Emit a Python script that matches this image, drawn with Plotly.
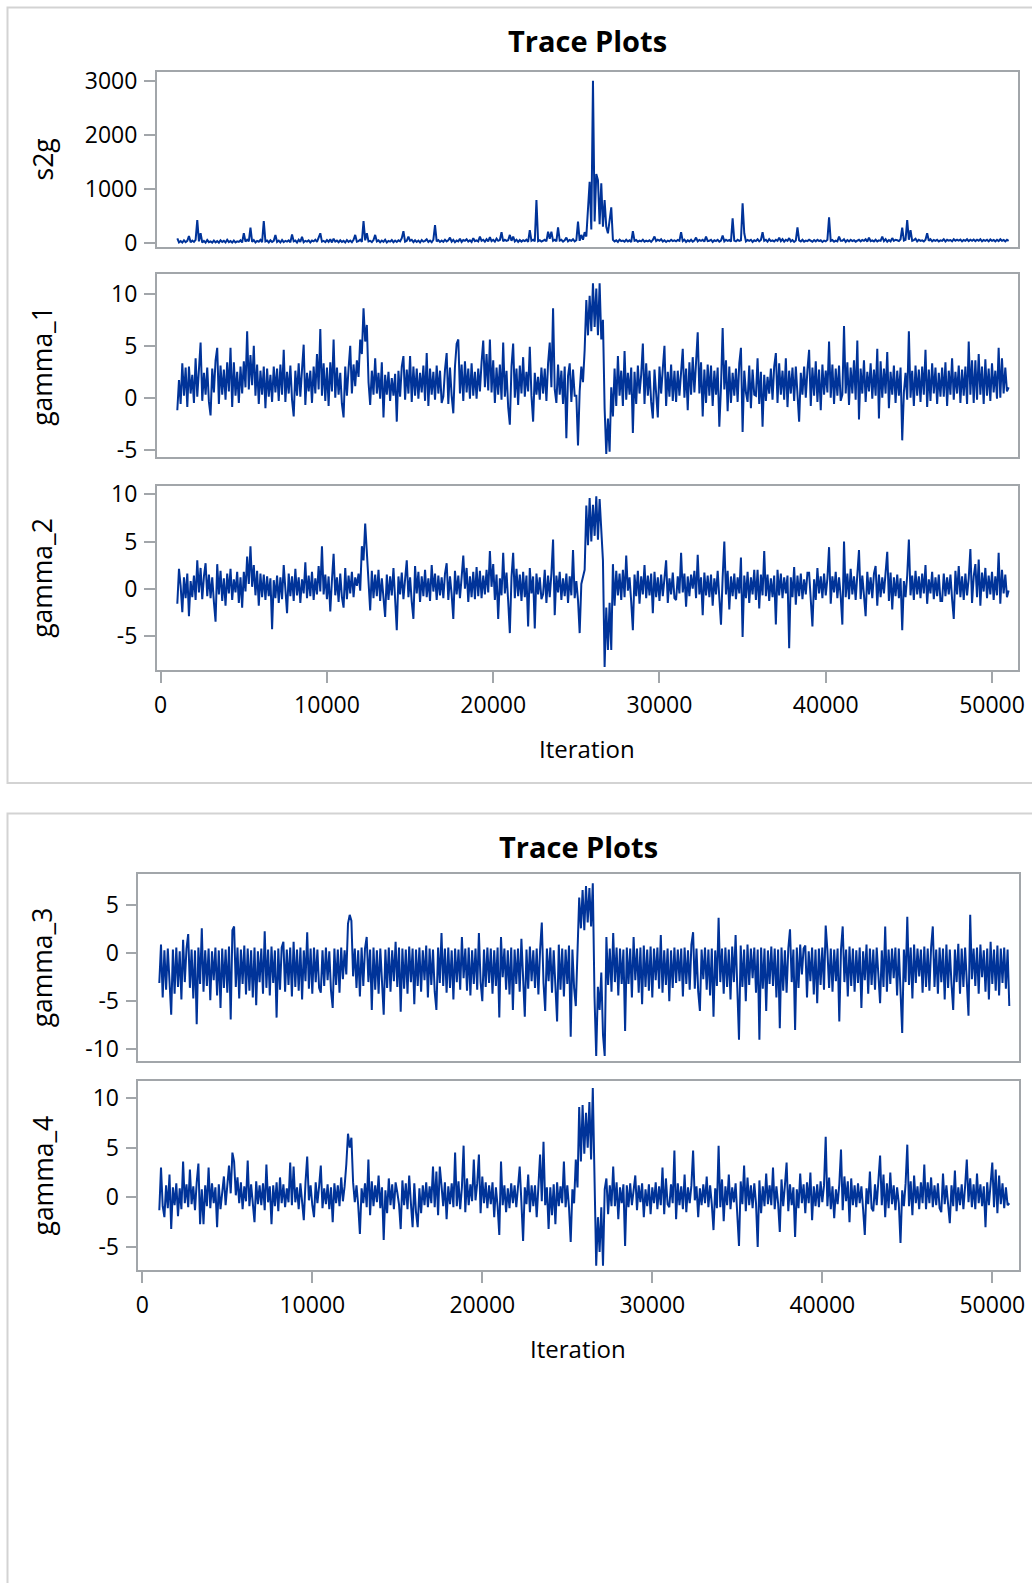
import plotly.graph_objects as go

# Iteration numbers of the thinned posterior draws (burn-in 1000, every 100th kept)
ITERATIONS = list(range(1000, 51001, 100))

s2g = [
    86, 10, 35, 8, 50, 15, 40, 130, 12, 45, 20, 60, 425, 30, 180, 10, 40, 8, 55, 15,
    30, 8, 45, 12, 35, 6, 50, 20, 40, 10, 60, 15, 35, 8, 45, 12, 30, 20, 50, 10,
    180, 25, 60, 30, 285, 20, 55, 10, 40, 25, 60, 15, 405, 30, 45, 10, 50, 20, 40, 150,
    20, 45, 10, 55, 15, 40, 25, 50, 12, 160, 30, 45, 10, 60, 20, 115, 15, 40, 25, 50,
    12, 45, 30, 60, 20, 90, 180, 25, 40, 15, 55, 20, 70, 10, 80, 25, 45, 15, 50, 20,
    40, 10, 55, 20, 45, 15, 60, 150, 25, 35, 60, 20, 405, 50, 180, 30, 40, 15, 55, 150,
    30, 50, 15, 45, 20, 60, 10, 40, 25, 55, 15, 45, 20, 50, 30, 90, 220, 25, 40, 120,
    40, 60, 15, 50, 20, 45, 10, 55, 25, 40, 70, 20, 45, 15, 60, 330, 30, 55, 20, 45,
    20, 60, 30, 50, 100, 25, 60, 15, 45, 30, 80, 20, 55, 40, 70, 25, 50, 20, 90, 35,
    50, 30, 120, 40, 60, 25, 70, 30, 110, 35, 60, 25, 80, 40, 55, 200, 30, 60, 40, 50,
    150, 40, 120, 30, 60, 20, 55, 25, 50, 35, 60, 20, 240, 40, 60, 30, 795, 35, 50, 25,
    40, 60, 30, 210, 80, 210, 40, 60, 30, 290, 45, 60, 25, 50, 100, 30, 55, 40, 70, 30,
    50, 395, 40, 150, 60, 200, 120, 600, 1135, 250, 3005, 400, 1277, 1166, 350, 1105, 300, 796, 300, 180,
    456, 660, 60, 30, 50, 20, 60, 35, 45, 25, 60, 30, 50, 15, 220, 40, 55, 25, 45, 30,
    60, 25, 45, 30, 50, 20, 55, 120, 35, 60, 40, 70, 25, 50, 20, 45, 30, 60, 35, 50,
    30, 55, 40, 200, 35, 60, 20, 50, 30, 60, 25, 45, 100, 30, 55, 40, 60, 25, 120, 35,
    40, 60, 20, 50, 35, 60, 25, 45, 140, 30, 60, 40, 55, 25, 456, 45, 30, 60, 40, 50,
    735, 180, 30, 55, 40, 60, 20, 50, 35, 70, 30, 55, 200, 40, 60, 25, 70, 35, 50, 30,
    60, 40, 100, 35, 70, 25, 60, 40, 90, 30, 55, 20, 45, 290, 50, 30, 60, 25, 45, 35,
    60, 40, 25, 55, 30, 60, 35, 50, 20, 45, 30, 60, 475, 40, 55, 25, 45, 30, 120, 40,
    40, 70, 20, 55, 30, 60, 35, 50, 25, 45, 60, 30, 55, 40, 70, 25, 100, 35, 50, 30,
    60, 30, 50, 40, 120, 35, 70, 25, 55, 30, 90, 40, 60, 50, 35, 70, 285, 45, 60, 425,
    60, 240, 40, 55, 80, 30, 60, 40, 50, 30, 60, 180, 40, 70, 30, 55, 40, 60, 30, 50,
    40, 70, 30, 60, 45, 55, 30, 70, 40, 60, 45, 65, 30, 55, 40, 70, 35, 60, 40, 65,
    35, 60, 40, 70, 30, 55, 40, 60, 30, 65, 40, 55, 30, 60, 35, 70, 40, 55, 30, 60,
    40,
]

gamma_1 = [
    -1.2, 1.7, -0.6, 3.3, 0.2, 2.9, -0.9, 3.0, 0.4, 2.2, -0.5, 3.8, 0.1, 2.6, 5.3, -0.3, 2.4, 0.3, 2.9, -0.4,
    -1.7, 2.8, 0.5, 3.6, 4.8, -0.6, 3.1, 0.3, 2.7, -0.2, 3.4, 0.6, 4.8, -0.9, 3.4, 0.2, 2.5, -0.5, 3.0, 0.4,
    3.5, 1.0, 6.4, 0.8, 4.1, 1.2, 5.0, 0.2, 3.2, -0.6, 2.6, 0.3, 3.0, -1.0, 2.8, 0.1, 2.2, -0.4, 3.0, 0.5,
    2.8, -0.3, 3.2, 0.3, 4.6, -0.4, 2.5, 0.4, 3.1, -0.2, -1.8, 2.6, 0.2, 3.3, 0.1, 2.7, 5.1, -0.7, 2.4, 0.6,
    2.6, -0.5, 3.0, 0.4, 4.2, 0.8, 6.6, 0.2, 3.3, -0.3, 2.9, -0.8, 3.4, 0.6, 5.6, 0.0, 2.9, 0.3, 2.4, -0.6,
    -1.9, 3.0, 0.2, 2.8, 5.0, 0.4, 3.2, 1.1, 3.6, 2.0, 5.6, 4.2, 8.6, 5.4, 7.0, 1.5, -0.7, 2.6, 0.3, 3.8,
    0.4, 2.4, -0.1, 3.4, -1.9, 2.2, 0.3, 2.5, -0.3, 1.9, 0.2, 2.3, -2.3, 2.6, 0.1, 3.0, 4.0, -0.2, 2.7, 0.4,
    4.0, -0.4, 3.0, 0.2, 2.8, -0.1, 2.4, 0.5, 3.1, -0.3, 4.3, -0.8, 2.8, 0.3, 2.5, -0.2, 3.1, 0.4, 2.6, -0.5,
    0.1, 2.7, 4.3, -0.6, 2.9, 0.2, -1.5, 3.0, 5.2, 5.6, 0.4, 3.2, -0.3, 3.5, 0.5, 2.8, -0.1, 3.3, 0.2, 2.5,
    -0.1, 2.8, 0.6, 3.4, 5.5, 1.0, 4.2, 0.7, 5.6, 0.5, 3.6, -0.5, 2.9, 0.3, 3.2, -0.2, 5.3, 0.1, 2.6, -0.9,
    -2.6, 3.0, 5.2, 0.0, 2.8, -0.7, 3.1, 0.4, 3.9, 0.1, 2.5, 0.6, 4.9, 0.2, -2.3, 2.4, 0.3, 2.0, -0.2, 2.9,
    0.4, 2.8, -0.3, 3.3, 5.3, 1.0, 8.6, 0.8, -0.5, 3.2, 0.3, 2.6, -0.6, 3.0, -3.9, 2.1, 3.3, -0.4, 2.7, 0.2,
    0.2, -4.6, 0.6, 3.0, 1.5, 4.6, 9.4, 6.0, 9.8, 6.4, 11.0, 6.8, 10.5, 6.0, 11.0, 5.6, 7.5, -1.0, -5.4, -2.0,
    -5.2, 1.0, -1.8, 2.8, -0.8, 4.0, 0.2, 2.6, -0.8, 4.5, -0.2, 2.4, 0.3, 2.9, -3.4, 2.5, -0.6, 3.1, 0.4, 2.2,
    5.2, -0.6, 3.3, 0.2, 2.6, -0.4, -2.0, 2.7, 0.3, -1.9, 3.0, 0.4, 2.8, 5.0, -0.8, 2.5, 0.1, 3.2, -0.3, 2.6,
    -0.4, 2.6, 0.2, 3.0, 4.7, 0.0, 2.8, -1.2, 3.4, 0.3, 3.9, 0.5, 2.9, 6.3, 0.4, 3.4, -1.8, 2.7, -0.5, 3.2,
    0.2, 3.1, -0.8, 2.6, 0.3, 2.9, -2.8, 1.0, 6.7, 0.8, 3.6, -1.3, 3.0, -0.5, 2.4, 0.2, 2.8, -0.4, 3.3, 4.8,
    -3.3, 2.6, 0.5, -0.4, 3.1, -1.0, 2.7, 0.3, 0.2, 3.8, -0.6, 2.5, -2.8, 2.2, -0.3, 2.0, 0.4, 2.8, -0.2, 3.0,
    4.3, -0.5, 3.3, 0.3, 2.6, -0.2, 3.8, -0.9, 2.6, 0.4, 2.9, -0.3, 3.0, 0.1, -2.3, 2.4, 0.3, 3.0, 0.0, 2.7,
    4.6, -0.8, 2.9, 0.2, 3.5, -0.4, 2.7, -1.2, 3.2, 0.3, 2.6, 0.5, 5.4, 0.0, 3.2, -0.6, 2.8, 0.2, 3.1, -0.3,
    0.3, 6.9, 0.4, 3.4, -0.7, 2.9, 0.4, 3.6, -0.2, 5.5, -2.1, 2.8, 0.4, 3.6, -0.4, 2.5, 0.6, 3.3, -0.1, 2.7,
    0.2, 4.7, -2.0, 3.5, 0.0, 2.8, 0.4, 4.4, -1.0, 2.5, 0.3, 3.1, -0.5, 2.6, 0.2, 2.9, -4.1, 0.5, 2.4, -0.2,
    6.4, 0.0, 2.6, -0.8, 3.1, 0.2, 2.7, -0.4, 3.0, 0.3, 4.6, -0.9, 2.7, -0.3, 3.3, 0.4, 2.9, -0.6, 2.4, 0.1,
    2.9, 0.1, 3.4, -0.8, 2.6, 0.3, 3.8, -0.2, 2.5, 0.4, 3.1, -0.5, 2.7, 0.2, 3.0, -0.6, 5.4, 0.3, 3.6, -0.5,
    3.6, -0.2, 4.2, 0.3, 3.0, -0.6, 3.7, 0.2, 2.8, -0.3, 3.3, 0.5, 2.6, -0.1, 4.8, 0.0, 3.8, 0.4, 2.9, 0.6,
    1.0,
]

gamma_2 = [
    -1.6, 2.1, 0.3, -2.5, 1.2, -1.0, 1.6, -2.9, 0.8, -0.9, 1.4, -1.2, 3.0, -0.4, 2.2, -1.1, 1.3, 2.7, -0.8, 1.5,
    -1.0, 1.2, -1.4, -3.5, 2.6, -0.6, 1.9, -1.3, 1.1, -1.8, 1.6, -0.5, 2.1, -1.2, 1.0, -0.4, 1.8, -1.5, 1.2, -2.0,
    1.8, -0.3, 3.4, 0.5, 4.5, 0.2, 2.5, -0.7, 1.9, -1.8, 1.6, -0.9, 1.5, -1.2, 1.3, -0.8, 1.1, -4.3, 0.9, -1.0,
    1.4, -1.5, 1.2, -1.1, 2.5, -0.6, -2.6, 1.6, -0.8, 1.3, -1.3, 2.1, -0.7, 1.2, -1.5, 1.0, -0.5, 2.8, -1.0, 1.4,
    -0.8, 1.8, -1.2, 1.1, -0.6, 2.4, -0.3, 4.5, -0.6, 1.5, -1.1, 1.3, -2.4, 0.9, 3.7, -0.7, 1.2, -1.4, 1.6, -0.9,
    -2.0, 2.2, -1.1, 1.4, -0.5, 1.8, -0.9, 1.2, 0.3, 1.6, -0.2, 4.5, 3.0, 6.9, 4.0, 1.2, -2.3, 1.9, -1.0, 1.5,
    -0.8, 2.0, -1.3, 1.1, -0.6, -3.0, 1.5, -1.2, 1.3, -0.7, 2.2, -1.0, -4.4, 1.3, -0.6, 1.7, -1.1, 1.0, 3.0, -0.9,
    1.2, -1.4, -3.2, 2.4, -0.5, 1.8, -1.4, 1.3, -0.8, 2.0, -0.9, 1.1, -1.3, 2.5, -0.3, 1.6, -1.2, 1.4, -0.7, 1.2,
    -1.0, 1.6, 2.7, -1.2, 1.3, -0.6, -3.2, 1.9, -0.6, 1.4, -1.0, 1.2, 3.5, 0.0, 2.2, -1.4, 1.3, -0.9, 1.8, -1.1,
    2.3, -0.8, 1.9, -1.0, 1.4, -0.6, 2.0, -0.4, 4.0, 0.2, 2.6, -1.2, 1.5, -3.2, 1.1, -0.7, 3.8, -0.5, 1.7, -1.3,
    -4.7, 1.2, 3.8, -1.0, 2.1, -0.8, 1.5, -1.3, 1.8, -0.9, 1.4, -4.0, 2.2, -0.5, 1.3, -4.2, 1.6, -0.6, 1.2, -1.1,
    -0.6, 2.0, -1.5, 1.4, -0.9, 1.6, 5.2, -2.8, 1.4, -0.4, 1.8, -1.2, 1.1, -0.8, 1.6, -1.5, 1.3, -0.7, 4.1, -1.0,
    0.8, -1.2, -4.7, 0.5, 1.4, 2.0, 8.8, 4.6, 9.6, 5.0, 8.9, 5.6, 9.8, 5.2, 9.5, 6.0, 3.0, -8.3, -2.0, -6.5,
    -1.5, -6.5, 2.6, -1.8, 1.9, -0.7, 1.6, -1.2, 2.0, -0.9, 3.5, -0.2, 1.2, -1.4, -4.4, 1.5, -0.8, 1.9, -1.6, 1.3,
    -0.6, 2.5, -1.0, 1.4, -0.7, 1.6, -2.6, 1.8, -0.9, 1.2, -1.3, 1.5, -0.8, 1.1, 3.0, -1.5, 1.1, -0.6, 1.7, -1.0,
    -1.2, 1.3, -0.5, 3.8, -0.4, 1.6, -1.9, 1.3, -0.8, 1.5, 0.0, 1.9, -1.0, 3.6, -0.6, 1.2, -2.8, 1.7, -0.7, 1.4,
    -0.9, 1.5, -1.8, 1.1, -0.6, 1.9, -1.3, -3.8, 1.2, 5.0, -0.6, 1.9, -2.2, 1.3, -0.8, 1.6, -1.1, 1.2, -0.5, 3.3,
    -5.1, 1.4, -1.0, 1.8, -1.5, 1.2, -0.6, 2.0, -1.2, 2.0, -2.1, 1.5, -0.7, 4.0, -0.8, 1.5, -1.3, 1.1, -0.9, 1.4,
    -3.8, 2.0, -0.7, 1.6, -1.0, 1.2, -0.5, 1.4, -6.3, 1.2, -0.9, 2.3, -1.7, 1.4, -0.8, 1.6, -1.1, 1.0, -0.6, 1.7,
    1.7, -1.2, -4.0, 1.0, -1.2, 2.2, -0.5, 1.3, -1.0, 1.6, -0.7, 1.1, 4.4, -1.6, 1.3, -0.4, 1.8, -1.0, 1.2, -0.8,
    -3.8, 5.0, -0.9, 1.6, -1.1, 2.1, -0.6, 1.3, -1.2, 1.5, 4.1, -1.1, 1.4, -0.7, -2.9, 1.8, -0.6, 1.2, -1.0, 1.6,
    2.4, -1.8, 1.5, -0.9, 1.2, -0.5, 1.7, 3.9, -1.3, 1.7, -2.2, 1.2, -0.8, 1.5, -1.0, 1.1, -4.4, 0.8, -0.9, 1.4,
    5.2, -0.7, 1.4, -1.2, 1.9, -0.6, 1.3, -1.0, 1.6, -0.5, 2.5, -1.6, 1.0, -0.5, 1.8, -1.1, 1.2, -0.8, 1.5, -1.3,
    -1.3, 1.6, -0.8, 1.2, -0.6, 1.5, -1.1, -3.2, 1.9, -0.6, 2.4, -0.9, 1.3, -1.2, 1.6, -0.7, 1.1, 4.2, -1.5, 1.3,
    2.6, -0.9, 3.1, -1.8, 1.7, -0.3, 2.2, -1.0, 1.4, -0.6, 1.8, -1.2, 1.3, -0.7, 3.8, -1.6, 2.0, -0.5, 1.5, -0.9,
    -0.2,
]

gamma_3 = [
    -3.1, 0.9, -4.6, 0.3, -3.8, 0.5, -2.9, -6.4, 0.4, -4.2, 0.6, -3.5, 0.2, -4.8, 1.4, -3.0, 0.5, 2.0, -3.6, 0.4,
    -4.7, 0.3, -7.4, 0.6, -3.2, 2.6, -4.0, 0.3, -3.4, 0.5, -4.9, 0.2, -2.8, 0.6, -4.4, 0.3, -5.7, 0.5, -3.6, 0.4,
    -4.1, 0.7, -6.9, 2.4, 2.8, -3.5, 0.6, -4.7, 0.4, -3.2, 0.8, -4.3, 0.5, -3.9, 0.3, -4.6, 0.6, -5.4, 0.2, -3.0,
    0.5, -4.2, 2.3, -3.6, 0.4, -4.4, 0.7, -3.1, 0.3, -6.7, 0.5, -3.8, 0.6, 1.2, -4.0, 0.4, -3.3, 0.6, -4.5, 1.2,
    -3.5, 0.4, -3.9, 0.6, -4.8, 0.3, -2.9, 2.2, -3.7, 0.5, -4.2, 0.6, -3.0, 0.4, -3.6, -4.1, 0.3, -3.4, 0.6, -2.8,
    0.2, -3.9, -5.7, 0.5, -3.3, 0.4, -4.1, 0.6, -2.7, 0.3, -2.2, 3.1, 4.0, 3.4, -2.4, 0.5, -3.6, 0.3, -4.5, 0.6,
    -3.4, 0.5, 1.7, -3.0, 0.4, -5.9, 0.6, -3.8, 0.3, -4.2, 0.5, -3.1, -6.4, 0.4, -3.6, 0.6, -4.0, 0.3, -2.9, 1.2,
    -3.5, 0.6, -6.1, 0.5, -3.7, 0.4, -4.2, 0.7, -3.0, 0.5, -5.3, 0.4, -3.4, 0.6, -4.0, 0.3, -2.8, 0.8, -4.6, 0.5,
    -3.3, 0.4, -4.0, -5.9, 0.6, -3.1, 2.1, -3.4, 0.5, -4.1, 0.6, -3.6, 0.3, -4.8, 0.5, -3.0, 0.4, -3.8, 1.7, -2.6,
    0.5, -3.9, 0.6, -4.4, 0.3, -3.2, 0.5, -3.8, 2.1, -3.0, -5.0, 0.4, -3.5, 0.6, -3.1, 0.5, -4.2, 0.3, -3.4, 0.6,
    -6.7, 1.7, -2.5, 0.5, -3.8, 0.3, -4.3, 0.6, -5.9, 0.4, -3.2, 0.5, -4.0, 1.5, -3.3, -6.6, 0.4, -3.7, 0.7, -2.9,
    0.3, -3.6, 0.5, -4.3, 0.4, 3.2, -3.1, -6.0, 0.5, -2.9, 0.6, -4.1, 0.3, -3.5, -7.1, 0.9, -3.8, 0.5, -4.5, 0.4,
    -3.2, 0.8, -8.7, 0.4, -3.6, -5.5, 0.6, 5.8, 2.6, 6.6, 2.4, 7.0, 3.2, 6.8, 2.8, 7.3, -4.5, -10.7, -3.5, -5.9,
    -2.0, -8.5, -10.7, 1.7, -3.3, 0.5, -4.0, 2.1, -3.0, 0.6, -4.4, 0.5, -3.2, 0.4, -8.1, 0.6, -3.2, 0.5, -4.6, 1.7,
    -2.8, 0.5, -4.1, 0.6, -5.3, 0.8, -3.5, 0.4, -3.9, 0.7, -4.6, 0.5, -2.8, 0.6, -3.7, 1.9, -4.1, 0.3, -3.3, 0.5,
    -5.0, 0.3, -3.6, 0.6, -3.1, 0.4, -2.9, 0.5, -4.5, 0.6, -3.2, 0.3, -3.8, 0.9, 2.2, -3.7, 0.5, -4.0, -6.0, 0.4,
    -2.7, 0.6, -3.8, 0.4, -4.4, 0.5, -6.6, 0.3, -3.4, 3.7, -3.0, 0.5, -4.2, 0.6, -3.5, 0.4, -4.8, 0.7, -3.0, 1.9,
    -3.6, -9.0, 0.8, -3.5, 0.4, -5.0, 0.9, -3.3, 0.5, -2.6, 0.6, -4.1, 0.4, -9.0, 0.6, -3.7, 0.5, -6.0, 0.3, -3.2,
    0.7, -3.4, 0.5, -4.6, 0.4, -7.8, 0.6, -3.9, 0.3, -4.1, 0.5, 2.5, -3.0, 0.4, -8.0, 0.6, -3.6, 0.9, -2.2, 0.5,
    0.8, -4.6, 0.2, -2.9, 0.6, -4.3, 0.4, -5.2, 0.5, -3.3, 0.6, -3.8, 2.9, 0.3, -3.6, 0.5, -4.0, 0.4, -2.9, 0.5,
    -7.1, 0.4, 2.8, -3.0, 0.4, -4.5, 0.7, -3.4, 0.5, -4.0, 0.3, -3.1, 0.6, -5.7, 0.2, -2.8, 0.9, -4.2, 0.5, -3.3,
    0.4, -3.8, 0.6, -3.0, -5.2, 0.3, -3.5, 2.8, -4.0, 0.4, -3.2, 0.5, -2.6, 0.6, -4.4, 0.5, -3.6, -8.3, 0.4, -3.0,
    3.8, -3.3, 0.6, -4.7, 0.9, -3.1, 0.5, -2.4, 0.4, -4.1, 0.7, -3.5, 0.5, -3.9, 0.6, 2.8, -3.5, 0.4, -4.2, 0.6,
    -3.0, 0.5, -4.8, 0.9, -3.6, 0.4, -3.2, -5.9, 0.4, -3.0, 1.0, -4.2, 0.5, -3.5, 0.6, -3.8, -6.5, 4.0, -2.7, 0.5,
    -3.4, 0.6, -4.2, 0.9, -2.5, 0.3, -4.0, 0.5, -4.8, 1.2, -3.2, 0.4, -3.9, 0.8, -4.4, 0.5, -3.1, 0.6, -3.7, 0.4,
    -5.5,
]

gamma_4 = [
    -1.3, 3.0, -0.9, -2.0, 1.2, -1.1, 2.3, -3.2, 1.0, -0.8, 1.4, -1.9, 0.9, -1.2, 3.6, -0.6, 1.3, -1.0, 2.8, -0.7,
    1.1, -1.3, 1.5, 3.4, -2.7, 0.8, -2.7, 1.2, -0.9, 3.0, -1.1, 1.4, -0.6, 1.0, -3.0, 1.3, -1.2, 0.9, 2.1, -0.8,
    1.2, 3.2, 0.4, 4.5, 3.6, 0.2, 2.0, -0.6, 1.5, -1.2, 1.1, -0.4, 3.7, -0.9, 1.3, -1.1, -2.5, 1.6, -0.7, 1.2,
    -0.8, 1.4, -1.3, 3.3, -0.5, 1.1, -2.7, 1.2, -0.9, 1.5, -1.4, 2.0, -0.6, 1.3, -1.0, 0.9, -0.5, 3.5, -0.8, 3.1,
    -0.5, 1.0, -1.2, 1.4, -0.7, -2.3, 1.5, 4.1, -0.3, 1.2, -0.8, -2.0, 1.5, -0.6, 1.1, 3.2, -1.1, 0.9, -0.7, 1.3,
    -1.2, 1.0, -2.5, 1.4, -0.6, 1.2, -0.9, 2.0, -0.4, 1.1, 3.3, 6.4, 5.0, 6.0, 1.5, -0.5, 1.2, -0.8, -3.7, 0.9,
    -0.6, 1.4, -1.0, 3.8, -1.8, 1.6, -0.9, 1.2, -0.5, 2.2, -1.1, 1.0, -4.3, 0.7, -1.6, 1.9, -0.8, 1.3, -1.2, 1.5,
    0.5, -0.7, -3.2, 1.7, -0.8, 1.4, -1.2, 2.2, -0.6, -3.0, 1.4, -1.5, -3.0, 0.9, -1.6, 1.2, -0.8, 1.5, -1.0, 1.1,
    -0.6, 3.1, -1.0, 2.6, -1.8, 3.1, 1.2, -0.9, 1.5, -2.2, 1.1, -0.7, 1.4, -1.0, 4.5, -0.9, 1.6, -1.2, 1.0, 5.2,
    -1.5, 1.9, -0.8, 1.3, -0.4, 3.8, -0.3, 1.4, 4.3, -1.6, 2.1, -0.6, 1.5, -1.1, 1.2, -0.7, 1.5, -2.0, 1.0, -0.9,
    -3.8, 3.6, -0.8, 1.2, -1.5, 0.9, -1.1, 1.4, -0.6, 1.2, -1.0, 1.1, 3.1, -0.5, -4.4, 1.0, -0.7, 2.3, -1.5, 1.2,
    -0.9, 1.2, -2.0, 1.1, 4.3, -0.4, 5.6, -0.8, 1.0, -3.2, 1.0, -1.8, 1.3, -2.7, 1.5, -0.9, 1.1, -0.6, 3.6, -1.0,
    1.2, -1.0, -4.5, 0.8, -0.6, 3.8, 1.0, 9.1, 3.6, 9.3, 4.4, 8.5, 5.0, 9.6, 3.8, 11.0, 2.0, -6.9, -2.0, -5.5,
    -1.0, -6.9, 0.8, 1.9, -1.7, 1.2, -0.9, 3.1, -0.9, 1.5, -2.2, 1.0, -0.6, 1.3, -4.9, 1.2, -1.0, 1.4, -0.8, 1.1,
    2.2, -1.3, 1.2, -0.5, 1.4, -2.0, 0.8, -0.9, 1.3, -1.7, 1.0, -0.6, 1.5, -1.2, 1.1, -0.8, 3.0, -1.7, 1.9, -0.7,
    -1.0, 1.3, -0.6, 4.7, -2.2, 1.4, -0.8, 1.1, -1.2, 2.3, -1.5, 1.0, -0.6, 1.2, 4.7, -0.3, 1.1, -2.0, 0.9, -0.8,
    1.3, -0.6, 2.1, -1.0, 1.2, -0.7, -3.3, 0.9, -1.1, 5.2, -1.0, 1.8, -2.4, 1.1, -0.8, 2.3, -1.2, 1.0, -0.5, 1.4,
    -1.2, -4.9, 1.6, -0.7, 3.2, -1.4, 2.0, -0.8, 1.2, -1.1, 1.4, -0.6, -5.0, 1.7, -1.6, 1.1, -0.9, 2.4, -0.7, 1.2,
    -0.8, 3.0, -1.2, 1.1, -0.6, -3.5, 1.8, -0.9, 1.2, 3.5, -1.4, 1.3, -0.8, 1.0, -4.0, 0.8, -1.1, 2.4, -0.6, 1.3,
    -1.6, 1.5, -0.6, 2.5, -2.3, 1.1, -0.9, 1.3, -1.0, 1.6, -0.5, 1.2, 6.1, -0.9, 2.0, -1.2, 1.1, -2.1, 0.8, -0.7,
    1.3, 4.8, -1.3, 2.1, -0.4, 1.6, -2.5, 1.9, -0.8, 1.2, -1.0, 1.4, -0.6, 1.1, -1.2, -3.8, 0.9, -0.7, 2.6, -1.1,
    -1.4, 1.3, -0.8, 1.5, 4.2, -0.8, 2.3, -2.0, 1.4, -1.1, 2.5, -0.7, 1.2, -1.3, 1.0, -0.6, -4.6, 0.7, -0.9, 1.4,
    5.3, -0.9, 1.6, -1.8, 2.2, -0.6, 1.1, -1.2, 1.5, -0.6, 3.3, -1.2, 1.5, -0.6, 2.0, -1.0, 1.2, -0.8, 1.4, -1.1,
    -1.5, 2.4, -0.7, 1.2, -0.9, -2.6, 1.2, -0.9, 2.7, -1.4, 1.0, -0.8, 1.3, -1.2, 1.1, 3.8, -0.5, 1.9, -1.0, 1.3,
    -1.2, 2.4, -0.6, 1.3, -0.9, 1.1, -3.0, 1.5, -0.8, 1.2, 3.5, -1.0, 2.8, -1.6, 2.2, -0.7, 1.4, -1.1, 1.0, -0.8,
    -0.6,
]

X_TICKS = [0, 10000, 20000, 30000, 40000, 50000]
PARAM_NAMES = ["s2g", "gamma_1", "gamma_2", "gamma_3", "gamma_4"]
PARAM_VALUES = [s2g, gamma_1, gamma_2, gamma_3, gamma_4]
Y_TICKS = [
    [0, 1000, 2000, 3000],
    [-5, 0, 5, 10],
    [-5, 0, 5, 10],
    [-10, -5, 0, 5],
    [-5, 0, 5, 10],
]

# ---- page geometry (pixels) ----
W, H = 1032, 1583
LINE_BLUE = "#003399"
AXIS_GRAY = "#A2A6AA"
FRAME_GRAY = "#D3D3D3"
FONT = "Open Sans"


def fx(px):
    return px / W


def fy(px):
    return 1 - px / H


# plot boxes: (left, right, top, bottom) in pixels, y range, x range, bottom-of-stack flag
boxes = [
    (156.7, 1017.7, 72.0, 247.0, [-74, 3167], [-240, 51546], False),
    (156.7, 1017.7, 274.3, 457.3, [-5.73, 11.87], [-240, 51546], False),
    (156.7, 1017.7, 485.7, 670.0, [-8.61, 10.91], [-240, 51546], True),
    (138.3, 1018.6, 874.0, 1060.7, [-11.19, 8.26], [-235, 51547], False),
    (138.3, 1018.6, 1081.0, 1270.0, [-7.32, 11.71], [-235, 51547], True),
]

fig = go.Figure()
layout = dict(
    width=W,
    height=H,
    autosize=False,
    margin=dict(l=0, r=0, t=0, b=0, pad=0, autoexpand=False),
    paper_bgcolor="white",
    plot_bgcolor="white",
    showlegend=False,
    font=dict(family=FONT, color="black"),
)

for k, (name, vals, yt, box) in enumerate(zip(PARAM_NAMES, PARAM_VALUES, Y_TICKS, boxes), start=1):
    left, right, top, bottom, yr, xr, show_x = box
    sfx = "" if k == 1 else str(k)
    fig.add_trace(
        go.Scatter(
            x=ITERATIONS[: len(vals)],
            y=vals,
            mode="lines",
            line=dict(color=LINE_BLUE, width=2.0),
            xaxis="x" + sfx,
            yaxis="y" + sfx,
            hoverinfo="skip",
        )
    )
    layout["xaxis" + sfx] = dict(
        domain=[fx(left), fx(right)],
        range=xr,
        anchor="y" + sfx,
        automargin=False,
        showgrid=False,
        zeroline=False,
        showline=True,
        mirror=True,
        linecolor=AXIS_GRAY,
        linewidth=1.5,
        tickvals=X_TICKS if show_x else [],
        ticktext=[str(v) for v in X_TICKS] if show_x else [],
        ticks="outside" if show_x else "",
        ticklen=11,
        tickwidth=1.5,
        tickcolor=AXIS_GRAY,
        showticklabels=show_x,
        tickfont=dict(family=FONT, size=23, color="black"),
        ticklabelstandoff=3,
    )
    layout["yaxis" + sfx] = dict(
        domain=[fy(bottom), fy(top)],
        range=yr,
        anchor="x" + sfx,
        automargin=False,
        showgrid=False,
        zeroline=False,
        showline=True,
        mirror=True,
        linecolor=AXIS_GRAY,
        linewidth=1.5,
        tickvals=yt,
        ticktext=[str(v) for v in yt],
        ticks="outside",
        ticklen=11,
        tickwidth=1.5,
        tickcolor=AXIS_GRAY,
        tickfont=dict(family=FONT, size=23, color="black"),
        ticklabelstandoff=2,
    )

fig.update_layout(**layout)

annotations = []
# parameter labels, rotated, centred on each plot box
for name, box in zip(PARAM_NAMES, boxes):
    left, right, top, bottom = box[:4]
    annotations.append(
        dict(
            text=name,
            x=fx(42),
            y=fy((top + bottom) / 2),
            xref="paper",
            yref="paper",
            xanchor="center",
            yanchor="middle",
            textangle=-90,
            showarrow=False,
            font=dict(family=FONT, size=26.5, color="black"),
        )
    )

# panel titles and x-axis titles
for cx, ty, ly in [(587.2, 40.7, 748.3), (578.4, 846.7, 1348.0)]:
    annotations.append(
        dict(
            text="<b>Trace Plots</b>",
            x=fx(cx),
            y=fy(ty),
            xref="paper",
            yref="paper",
            xanchor="center",
            yanchor="middle",
            showarrow=False,
            font=dict(family=FONT, size=29, color="black"),
        )
    )
    annotations.append(
        dict(
            text="Iteration",
            x=fx(cx),
            y=fy(ly),
            xref="paper",
            yref="paper",
            xanchor="center",
            yanchor="middle",
            showarrow=False,
            font=dict(family=FONT, size=24, color="black"),
        )
    )

fig.update_layout(annotations=annotations)

# light outer frames around the two output panels
for top, bottom in [(7.5, 783.0), (813.5, 1620.0)]:
    fig.add_shape(
        type="rect",
        xref="paper",
        yref="paper",
        x0=fx(7.5),
        x1=fx(1045),
        y0=fy(bottom),
        y1=fy(top),
        line=dict(color=FRAME_GRAY, width=2),
        fillcolor="rgba(0,0,0,0)",
        layer="below",
    )

fig.write_html("out.html")
